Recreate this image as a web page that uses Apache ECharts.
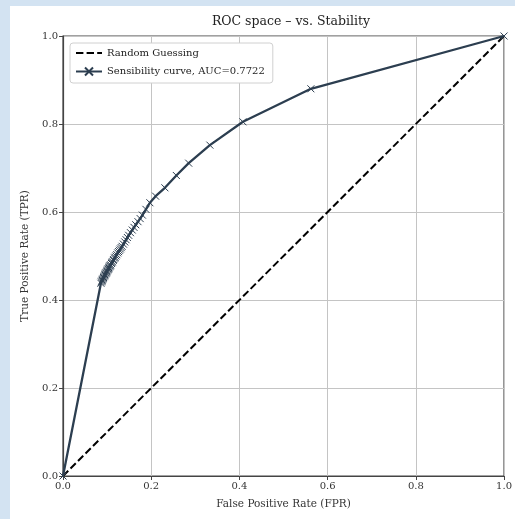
<!DOCTYPE html>
<html><head><meta charset="utf-8">
<script src="https://cdn.jsdelivr.net/npm/echarts@6/dist/echarts.min.js"></script>
<style>
html,body{margin:0;padding:0;width:515px;height:519px;overflow:hidden;
background:#d3e3f2;}
#c{width:515px;height:519px;}
</style></head><body><div id="c"></div>
<script>
const fpr = [0, 0.086, 0.087, 0.088, 0.089, 0.090, 0.091, 0.092, 0.093, 0.094, 0.095, 0.096, 0.097, 0.098, 0.099, 0.100, 0.101, 0.102, 0.103, 0.104, 0.105, 0.106, 0.107, 0.108, 0.110, 0.111, 0.112, 0.114, 0.115, 0.117, 0.118, 0.120, 0.122, 0.124, 0.126, 0.128, 0.130, 0.132, 0.134, 0.137, 0.140, 0.143, 0.146, 0.149, 0.153, 0.157, 0.161, 0.165, 0.170, 0.175, 0.180, 0.188, 0.197, 0.210, 0.231, 0.257, 0.285, 0.333, 0.408, 0.562, 1.0];
const tpr = [0, 0.438, 0.441, 0.443, 0.445, 0.447, 0.449, 0.451, 0.453, 0.455, 0.457, 0.459, 0.461, 0.462, 0.464, 0.466, 0.468, 0.470, 0.471, 0.473, 0.475, 0.477, 0.478, 0.480, 0.483, 0.485, 0.487, 0.490, 0.492, 0.495, 0.497, 0.500, 0.503, 0.507, 0.510, 0.513, 0.516, 0.519, 0.522, 0.527, 0.532, 0.537, 0.542, 0.547, 0.553, 0.559, 0.565, 0.571, 0.578, 0.585, 0.593, 0.606, 0.621, 0.636, 0.655, 0.683, 0.711, 0.752, 0.805, 0.880, 1.0];
const randomX = [0, 1];
const randomY = [0, 1];
const tickLabels = ['0.0','0.2','0.4','0.6','0.8','1.0'];
const titleText = 'ROC space – vs. Stability';
const xName = 'False Positive Rate (FPR)';
const yName = 'True Positive Rate (TPR)';
const seriesNames = ['Random Guessing', 'Sensibility curve, AUC=0.7722'];

const serif = '"DejaVu Serif", "Liberation Serif", serif';
const curveColor = '#2c3e50';
const chart = echarts.init(document.getElementById('c'), null, {renderer:'canvas'});
const fmt = v => tickLabels[Math.round(v*5)];
const axisCommon = {
  type:'value', min:0, max:1, interval:0.2,
  axisLine:{show:true, onZero:false, lineStyle:{color:'#444', width:1.2}},
  axisTick:{show:true, length:4, lineStyle:{color:'#444', width:1}},
  splitLine:{show:true, lineStyle:{color:'#c4c4c4', width:1}},
  axisLabel:{formatter:fmt, fontFamily:serif, fontSize:10, color:'#333', margin:5},
  nameTextStyle:{fontFamily:serif, fontSize:10.5, color:'#333'}
};
chart.setOption({
  animation:false,
  graphic:[{type:'rect', z:-10, shape:{x:10, y:6, width:510, height:520}, style:{fill:'#fff'}}],
  title:{text:titleText, left:286, top:10, textAlign:'center',
    textStyle:{fontFamily:serif, fontSize:12.5, fontWeight:'normal', color:'#222'}},
  grid:{left:63, right:8, top:36, bottom:43, show:true, borderColor:'#444', borderWidth:1.2},
  legend:{
    orient:'vertical', left:70, top:43, padding:[5,8,5,5], itemGap:7,
    itemWidth:26, itemHeight:10,
    backgroundColor:'#fff', borderColor:'#d0d0d0', borderWidth:1, borderRadius:3,
    textStyle:{fontFamily:serif, fontSize:10, color:'#222'},
    data:seriesNames
  },
  xAxis:Object.assign({}, axisCommon, {name:xName, nameLocation:'middle', nameGap:23}),
  yAxis:Object.assign({}, axisCommon, {name:yName, nameLocation:'middle', nameGap:29}),
  series:[
    {name:seriesNames[0], type:'line', data:randomX.map((x,i)=>[x, randomY[i]]),
     symbol:'circle', showSymbol:false,
     lineStyle:{color:'#000', width:2, type:[7.4,3.2]}, itemStyle:{color:'#000', opacity:0}, z:3},
    {name:seriesNames[1], type:'line', data:fpr.map((x,i)=>[x, tpr[i]]),
     symbol:'path://M0,0L10,10M0,10L10,0', symbolSize:7, showAllSymbol:true,
     lineStyle:{color:curveColor, width:2.3},
     itemStyle:{color:'none', borderColor:curveColor, borderWidth:1}, z:4}
  ]
});
</script></body></html>
